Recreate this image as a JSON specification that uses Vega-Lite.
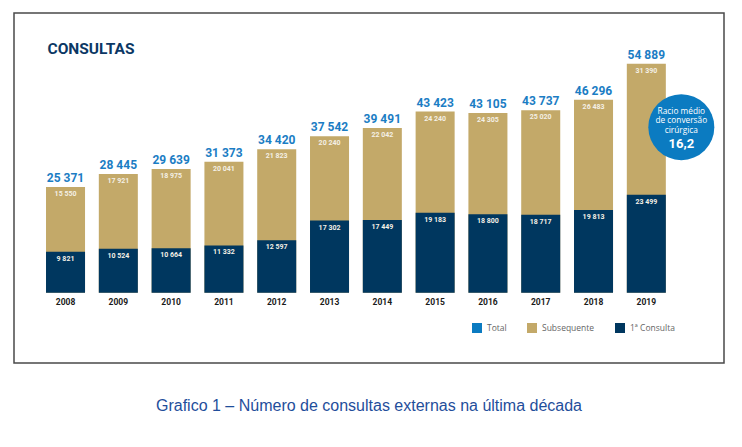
{
  "$schema": "https://vega.github.io/schema/vega-lite/v6.json",
  "width": 710,
  "height": 350,
  "autosize": {"type": "none"},
  "padding": {"left": 14, "top": 13, "right": 18, "bottom": 84},
  "background": "white",
  "config": {
    "locale": {"number": {"decimal": ",", "thousands": " ", "grouping": [3], "currency": ["", " €"]}},
    "view": {"stroke": "#4a4a4a", "strokeWidth": 1.5},
    "font": "Liberation Sans",
    "axisY": {
      "titleAngle": 0, "titleX": 33, "titleY": 35, "titleAlign": "left", "titleBaseline": "middle",
      "labels": false, "ticks": false, "domain": false, "grid": false,
      "titleFont": "Roboto", "titleFontSize": 15.5, "titleFontWeight": "bold", "titleColor": "#0B3764"
    }
  },
  "title": {
    "text": "Grafico 1 – Número de consultas externas na última década",
    "orient": "bottom", "anchor": "middle", "fontSize": 16, "fontWeight": "normal",
    "color": "#1F4E9B", "offset": 35, "font": "Liberation Sans"
  },
  "data": {"values": [
    {"year": "2008", "first": 9821, "sub": 15550, "total": 25371},
    {"year": "2009", "first": 10524, "sub": 17921, "total": 28445},
    {"year": "2010", "first": 10664, "sub": 18975, "total": 29639},
    {"year": "2011", "first": 11332, "sub": 20041, "total": 31373},
    {"year": "2012", "first": 12597, "sub": 21823, "total": 34420},
    {"year": "2013", "first": 17302, "sub": 20240, "total": 37542},
    {"year": "2014", "first": 17449, "sub": 22042, "total": 39491},
    {"year": "2015", "first": 19183, "sub": 24240, "total": 43423},
    {"year": "2016", "first": 18800, "sub": 24305, "total": 43105},
    {"year": "2017", "first": 18717, "sub": 25020, "total": 43737},
    {"year": "2018", "first": 19813, "sub": 26483, "total": 46296},
    {"year": "2019", "first": 23499, "sub": 31390, "total": 54889}
  ]},
  "encoding": {
    "x": {
      "field": "year", "type": "ordinal",
      "scale": {"paddingInner": 0.261, "paddingOuter": 0.854, "align": 0.355},
      "axis": {
        "title": null, "offset": -70.3, "domain": false, "ticks": false, "labelPadding": 5,
        "labelFont": "Roboto", "labelFontSize": 8.5,
        "labelFontWeight": "bold", "labelColor": "#1a1a1a", "labelAngle": 0
      }
    }
  },
  "layer": [
    {
      "mark": {"type": "bar"},
      "encoding": {
        "y": {"field": "total", "type": "quantitative", "title": "CONSULTAS", "scale": {"domain": [-16860, 67070], "nice": false, "zero": false}},
        "y2": {"datum": 0},
        "color": {
          "datum": "Subsequente", "type": "nominal",
          "scale": {"domain": ["Total", "Subsequente", "1ª Consulta"], "range": ["#0B7BC1", "#C3A969", "#00375F"]},
          "legend": {
            "title": null, "orient": "none", "legendX": 458, "legendY": 310, "direction": "horizontal",
            "symbolType": "square", "symbolSize": 100, "symbolStrokeWidth": 0, "symbolOpacity": 1,
            "labelFontSize": 8.5, "labelColor": "#666", "labelFont": "Open Sans", "labelOffset": 5, "columnPadding": 20
          }
        }
      }
    },
    {
      "mark": {"type": "bar"},
      "encoding": {
        "y": {"field": "first", "type": "quantitative", "title": "CONSULTAS", "scale": {"domain": [-16860, 67070], "nice": false, "zero": false}},
        "y2": {"datum": 0},
        "color": {"datum": "1ª Consulta", "type": "nominal"}
      }
    },
    {
      "mark": {"type": "text", "baseline": "bottom", "dy": -2, "font": "Roboto", "fontSize": 12, "fontWeight": "bold", "color": "#1B7DC4"},
      "encoding": {
        "y": {"field": "total", "type": "quantitative", "title": "CONSULTAS", "scale": {"domain": [-16860, 67070], "nice": false, "zero": false}},
        "text": {"field": "total", "type": "quantitative", "format": ",d"}
      }
    },
    {
      "mark": {"type": "text", "baseline": "middle", "dy": 7, "font": "Roboto", "fontSize": 7, "fontWeight": "bold", "color": "#F4F0E6"},
      "encoding": {
        "y": {"field": "total", "type": "quantitative", "title": "CONSULTAS", "scale": {"domain": [-16860, 67070], "nice": false, "zero": false}},
        "text": {"field": "sub", "type": "quantitative", "format": ",d"}
      }
    },
    {
      "mark": {"type": "text", "baseline": "middle", "dy": 7, "font": "Roboto", "fontSize": 7, "fontWeight": "bold", "color": "#F4F0E6"},
      "encoding": {
        "y": {"field": "first", "type": "quantitative", "title": "CONSULTAS", "scale": {"domain": [-16860, 67070], "nice": false, "zero": false}},
        "text": {"field": "first", "type": "quantitative", "format": ",d"}
      }
    },
    {
      "data": {"values": [{"note": "Racio médio\nde conversão\ncirúrgica", "ratio": "16,2"}]},
      "layer": [
        {
          "mark": {"type": "point", "shape": "circle", "filled": true, "size": 4356, "opacity": 1, "color": "#0B7BC1", "xOffset": 35},
          "encoding": {
            "x": {"datum": "2019", "type": "ordinal"},
            "y": {"datum": 39700, "type": "quantitative"}
          }
        },
        {
          "mark": {"type": "text", "lineBreak": "\n", "lineHeight": 9.5, "baseline": "middle", "dy": -15.5, "xOffset": 35, "font": "Open Sans", "fontSize": 8.3, "color": "white"},
          "encoding": {
            "x": {"datum": "2019", "type": "ordinal"},
            "y": {"datum": 39700, "type": "quantitative"},
            "text": {"field": "note"}
          }
        },
        {
          "mark": {"type": "text", "baseline": "middle", "dy": 16.5, "xOffset": 35, "font": "Roboto", "fontSize": 13, "fontWeight": "bold", "color": "white"},
          "encoding": {
            "x": {"datum": "2019", "type": "ordinal"},
            "y": {"datum": 39700, "type": "quantitative"},
            "text": {"field": "ratio"}
          }
        }
      ]
    }
  ]
}
